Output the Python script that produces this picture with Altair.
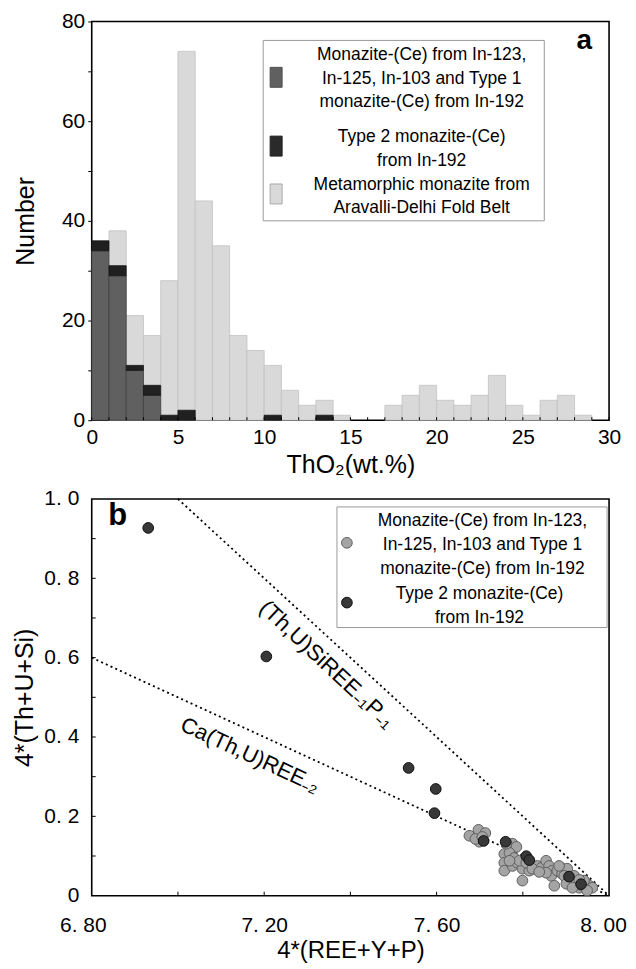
import altair as alt
import pandas as pd

FONT = "Liberation Sans"

# ---------------- Panel a: ThO2 histogram (bins of 1 wt.%) ----------------
bin_start = list(range(30))
meta_counts = [0, 38, 21, 17, 28, 74, 44, 35, 17, 14, 11, 6, 3, 4, 1,
               0, 0, 3, 5, 7, 4, 3, 5, 9, 3, 1, 4, 5, 1, 0]
type1_counts = [34, 29, 10, 5, 0, 0, 0, 0, 0, 0, 0, 0, 0, 0, 0,
                0, 0, 0, 0, 0, 0, 0, 0, 0, 0, 0, 0, 0, 0, 0]
type2_counts = [2, 2, 1, 2, 1, 2, 0, 0, 0, 0, 1, 0, 0, 1, 0,
                0, 0, 0, 0, 0, 0, 0, 0, 0, 0, 0, 0, 0, 0, 0]
a_y_ticks = [0, 10, 20, 30, 40, 50, 60, 70, 80]
a_x_labels = [0, 5, 10, 15, 20, 25, 30]
a_x_ticks = list(range(31))
legend_a_labels = [
    ["Monazite-(Ce) from In-123,", "In-125, In-103 and Type 1", "monazite-(Ce) from In-192"],
    ["Type 2 monazite-(Ce)", "from In-192"],
    ["Metamorphic monazite from", "Aravalli-Delhi Fold Belt"],
]

# ---------------- Panel b: substitution diagram ----------------
type1_x = [7.676, 7.697, 7.713, 7.699, 7.690, 7.706,
           7.757, 7.757, 7.757, 7.776, 7.785, 7.769, 7.780, 7.776, 7.787, 7.799, 7.799, 7.762, 7.792, 7.769,
           7.815, 7.827, 7.834, 7.843, 7.854, 7.861, 7.868, 7.866, 7.873, 7.880, 7.889, 7.891, 7.903, 7.808,
           7.822, 7.854, 7.884, 7.838,
           7.919, 7.924, 7.931, 7.938, 7.947, 7.954, 7.961, 7.919, 7.912, 7.942, 7.949, 7.896, 7.901, 7.915, 7.931]
type1_y = [0.151, 0.166, 0.158, 0.136, 0.143, 0.148,
           0.105, 0.083, 0.063, 0.131, 0.123, 0.108, 0.095, 0.075, 0.083, 0.068, 0.038, 0.131, 0.088, 0.088,
           0.063, 0.068, 0.075, 0.070, 0.088, 0.075, 0.063, 0.050, 0.025, 0.063, 0.070, 0.055, 0.068, 0.083,
           0.068, 0.058, 0.075, 0.060,
           0.050, 0.033, 0.020, 0.025, 0.030, 0.025, 0.020, 0.025, 0.038, 0.038, 0.013, 0.050, 0.030, 0.020, 0.040]
type2_x = [6.931, 7.205, 7.535, 7.598, 7.595, 7.709, 7.760, 7.808, 7.815, 7.907, 7.935]
type2_y = [0.927, 0.603, 0.322, 0.269, 0.208, 0.138, 0.136, 0.0996, 0.0896, 0.048, 0.029]
line_names = ["(Th,U)SiREE-1P-1", "(Th,U)SiREE-1P-1", "Ca(Th,U)REE-2", "Ca(Th,U)REE-2"]
line_x = [7.0, 8.0, 6.8, 8.0]
line_y = [1.0, 0.0, 0.6, 0.0]
b_y_labels = [0, 0.2, 0.4, 0.6, 0.8, 1.0]
b_y_ticks = [0.1, 0.2, 0.3, 0.4, 0.5, 0.6, 0.7, 0.8, 0.9]
b_x_labels = [6.8, 7.2, 7.6, 8.0]
b_x_ticks = [7.0, 7.2, 7.4, 7.6, 7.8]
legend_b_labels = [
    ["Monazite-(Ce) from In-123,", "In-125, In-103 and Type 1", "monazite-(Ce) from In-192"],
    ["Type 2 monazite-(Ce)", "from In-192"],
]
label_line1 = "(Th,U)SiREE\u208b\u2081P\u208b\u2081"
label_line2 = "Ca(Th,U)REE\u208b\u2082"

TITLE_FS = 25
LABEL_FS = 21
LEG_FS = 17.5

# ================= build panel a =================
WA, HA = 519, 400
df_a = pd.DataFrame({"start": bin_start, "meta": meta_counts,
                     "t1": type1_counts, "t2": type2_counts})
df_a["end"] = df_a["start"] + 1
xs_a = alt.Scale(domain=[0, 30], nice=False, zero=False)
ys_a = alt.Scale(domain=[0, 80], nice=False)

axis_xa = alt.Axis(values=a_x_labels, ticks=False, domain=False, grid=False, labelFlush=False,
                   labelFontSize=LABEL_FS, labelPadding=6, labelFont=FONT, labelColor="black",
                   title="ThO\u2082(wt.%)", titleFontSize=TITLE_FS, titleFont=FONT,
                   titleFontWeight="normal", titlePadding=5, titleColor="black")
axis_ya = alt.Axis(values=a_y_ticks, ticks=True, tickSize=4, tickColor="black", tickWidth=1,
                   domain=False, grid=False,
                   labelExpr="datum.value % 20 == 0 ? datum.label : ''",
                   labelFontSize=LABEL_FS, labelPadding=3, labelFont=FONT, labelColor="black",
                   title="Number", titleFontSize=TITLE_FS, titleFont=FONT,
                   titleFontWeight="normal", titlePadding=23.5, titleColor="black")

base_a = alt.Chart(df_a)
meta_bars = base_a.transform_filter("datum.meta > 0").mark_rect(
    fill="#d9d9d9", stroke="#c2c2c2", strokeWidth=0.8).encode(
    x=alt.X("start:Q", scale=xs_a, axis=axis_xa),
    x2="end:Q",
    y=alt.Y("meta:Q", scale=ys_a, axis=axis_ya),
    y2=alt.datum(0))
t1_bars = base_a.transform_filter("datum.t1 > 0").mark_rect(
    fill="#606060", stroke="#404040", strokeWidth=0.8).encode(
    x=alt.X("start:Q", scale=xs_a, axis=axis_xa), x2="end:Q",
    y=alt.Y("t1:Q", scale=ys_a, axis=axis_ya), y2=alt.datum(0))
t2_bars = base_a.transform_filter("datum.t2 > 0").transform_calculate(
    top="datum.t1 + datum.t2").mark_rect(
    fill="#202020", stroke="#151515", strokeWidth=0.8).encode(
    x=alt.X("start:Q", scale=xs_a, axis=axis_xa), x2="end:Q",
    y=alt.Y("top:Q", scale=ys_a, axis=axis_ya), y2="t1:Q")
xt_a = alt.Chart(pd.DataFrame({"t": a_x_ticks})).mark_rule(
    color="black", strokeWidth=1).encode(
    x=alt.X("t:Q", scale=xs_a, axis=axis_xa),
    y=alt.value(HA), y2=alt.value(HA - 3))

one = pd.DataFrame({"k": [0]})
leg_a_box = alt.Chart(one).mark_rect(fill="white", stroke="#9a9a9a", strokeWidth=1).encode(
    x=alt.value(172), x2=alt.value(454), y=alt.value(19), y2=alt.value(200))
leg_a_layers = [leg_a_box]
sw_colors = ["#606060", "#2a2a2a", "#d9d9d9"]
sw_strokes = ["#505050", "#202020", "#a8a8a8"]
sw_y = [(46, 66), (115, 135), (163, 183)]
txt_y_a = [34, 116, 164]
for i, lines in enumerate(legend_a_labels):
    leg_a_layers.append(alt.Chart(one).mark_rect(
        fill=sw_colors[i], stroke=sw_strokes[i], strokeWidth=1).encode(
        x=alt.value(179), x2=alt.value(191),
        y=alt.value(sw_y[i][0]), y2=alt.value(sw_y[i][1])))
    leg_a_layers.append(alt.Chart(one).mark_text(
        text=lines, font=FONT, fontSize=LEG_FS, lineHeight=23.5, align="center",
        baseline="middle", color="black").encode(
        x=alt.value(331), y=alt.value(txt_y_a[i])))
tag_a = alt.Chart(one).mark_text(text="a", font=FONT, fontSize=28, fontWeight="bold",
                                 align="center", baseline="middle", color="black").encode(
    x=alt.value(494), y=alt.value(20))

panel_a = alt.layer(meta_bars, t1_bars, t2_bars, xt_a, *leg_a_layers, tag_a).properties(
    width=WA, height=HA)

# ================= build panel b =================
WB, HB = 519, 398
xs_b = alt.Scale(domain=[6.8, 8.0], nice=False, zero=False)
ys_b = alt.Scale(domain=[0, 1.0], nice=False, zero=False)
axis_xb = alt.Axis(values=b_x_labels, ticks=False, domain=False, grid=False, labelFlush=False,
                   labelOffset={"condition": [{"test": "datum.value < 6.9", "value": -9},
                                              {"test": "datum.value > 7.9", "value": -6}],
                                "value": 0},
                   labelExpr="replace(format(datum.value, '.2f'), '.', '. ')",
                   labelFontSize=LABEL_FS, labelPadding=19, labelFont=FONT, labelColor="black",
                   title="4*(REE+Y+P)", titleFontSize=24, titleFont=FONT,
                   titleFontWeight="normal", titlePadding=3, titleColor="black")
axis_yb = alt.Axis(values=b_y_labels, ticks=False, domain=False, grid=False,
                   labelExpr="datum.value == 0 ? '0' : replace(format(datum.value, '.1f'), '.', '. ')",
                   labelFontSize=LABEL_FS, labelPadding=13, labelFont=FONT, labelColor="black",
                   title="4*(Th+U+Si)", titleFontSize=TITLE_FS, titleFont=FONT,
                   titleFontWeight="normal", titlePadding=6.5, titleColor="black")

df_lines = pd.DataFrame({"name": line_names, "x": line_x, "y": line_y})
lines_b = alt.Chart(df_lines).mark_line(color="black", strokeWidth=1.8,
                                        strokeDash=[2, 3.2]).encode(
    x=alt.X("x:Q", scale=xs_b, axis=axis_xb),
    y=alt.Y("y:Q", scale=ys_b, axis=axis_yb),
    detail="name:N")
df_t1 = pd.DataFrame({"x": type1_x, "y": type1_y})
df_t2 = pd.DataFrame({"x": type2_x, "y": type2_y})
pts1 = alt.Chart(df_t1).mark_circle(size=115, fill="#a4a4a4", stroke="#5e5e5e",
                                    strokeWidth=1, opacity=1).encode(
    x=alt.X("x:Q", scale=xs_b, axis=axis_xb), y=alt.Y("y:Q", scale=ys_b, axis=axis_yb))
pts2 = alt.Chart(df_t2).mark_circle(size=115, fill="#383838", stroke="#111111",
                                    strokeWidth=1, opacity=1).encode(
    x=alt.X("x:Q", scale=xs_b, axis=axis_xb), y=alt.Y("y:Q", scale=ys_b, axis=axis_yb))
yt_b = alt.Chart(pd.DataFrame({"t": b_y_ticks})).mark_rule(color="black", strokeWidth=1).encode(
    y=alt.Y("t:Q", scale=ys_b, axis=axis_yb), x=alt.value(0), x2=alt.value(4))
xt_b = alt.Chart(pd.DataFrame({"t": b_x_ticks})).mark_rule(color="black", strokeWidth=1).encode(
    x=alt.X("t:Q", scale=xs_b, axis=axis_xb), y=alt.value(HB), y2=alt.value(HB - 4))

lab1 = alt.Chart(one).mark_text(text=label_line1, font=FONT, fontSize=22.5, angle=43,
                                align="center", baseline="middle", color="black").encode(
    x=alt.value(236), y=alt.value(166))
lab2 = alt.Chart(one).mark_text(text=label_line2, font=FONT, fontSize=22, angle=25,
                                align="center", baseline="middle", color="black").encode(
    x=alt.value(159), y=alt.value(257))

leg_b_box = alt.Chart(one).mark_rect(fill="white", stroke="#9a9a9a", strokeWidth=1).encode(
    x=alt.value(246), x2=alt.value(517), y=alt.value(8), y2=alt.value(129))
leg_b_layers = [leg_b_box]
c_fill = ["#a4a4a4", "#383838"]
c_stroke = ["#5e5e5e", "#111111"]
c_y = [44, 104]
txt_b_x = [392, 389]
txt_b_y = [22, 95]
for i, lines in enumerate(legend_b_labels):
    leg_b_layers.append(alt.Chart(one).mark_circle(
        size=115, fill=c_fill[i], stroke=c_stroke[i], strokeWidth=1, opacity=1).encode(
        x=alt.value(256), y=alt.value(c_y[i])))
    leg_b_layers.append(alt.Chart(one).mark_text(
        text=lines, font=FONT, fontSize=LEG_FS, lineHeight=24, align="center",
        baseline="middle", color="black").encode(
        x=alt.value(txt_b_x[i]), y=alt.value(txt_b_y[i])))
tag_b = alt.Chart(one).mark_text(text="b", font=FONT, fontSize=31, fontWeight="bold",
                                 align="center", baseline="middle", color="black").encode(
    x=alt.value(26), y=alt.value(17))

panel_b = alt.layer(lines_b, pts1, pts2, yt_b, xt_b, lab1, lab2, *leg_b_layers, tag_b).properties(
    width=WB, height=HB)

chart = alt.vconcat(panel_a, panel_b, spacing=9).properties(
    padding={"left": 3, "top": 0, "right": 0, "bottom": 0},
    background="white",
).configure_view(stroke="black", strokeWidth=1.6).configure_concat(spacing=9)

chart.save("out.html", embed_options={"renderer": "svg", "actions": False})
